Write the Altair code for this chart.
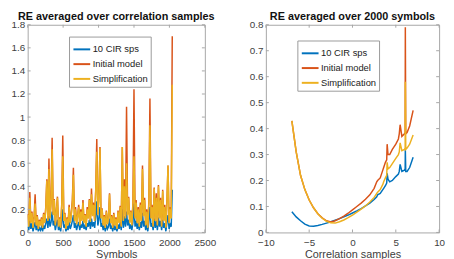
import altair as alt
import pandas as pd

series_names = ["10 CIR sps", "Initial model", "Simplification"]
series_colors = ["#0072BD", "#D95319", "#EDB120"]

# Left panel: RE averaged over correlation samples, per symbol
symbols = list(range(0, 2041, 15))
left_blue = [0.05,0.02,0.10,0.03,0.08,0.01,0.05,0.09,0.02,0.06,
             0.01,0.04,0.02,0.05,0.01,0.06,0.03,0.08,0.12,0.04,
             0.14,0.05,0.09,0.18,0.06,0.10,0.02,0.07,0.11,0.02,
             0.05,0.01,0.08,0.20,0.04,0.07,0.01,0.05,0.02,0.09,
             0.03,0.06,0.10,0.15,0.04,0.08,0.02,0.06,0.09,0.02,
             0.07,0.04,0.10,0.03,0.06,0.02,0.08,0.05,0.11,0.03,
             0.12,0.05,0.09,0.04,0.14,0.27,0.06,0.11,0.22,0.05,
             0.08,0.02,0.06,0.01,0.07,0.03,0.05,0.12,0.03,0.06,
             0.01,0.07,0.02,0.05,0.01,0.07,0.03,0.09,0.02,0.20,
             0.04,0.14,0.05,0.18,0.06,0.11,0.03,0.07,0.02,0.09,
             0.25,0.05,0.10,0.03,0.08,0.02,0.09,0.04,0.17,0.05,
             0.10,0.02,0.07,0.01,0.09,0.22,0.05,0.08,0.02,0.12,
             0.04,0.10,0.02,0.13,0.05,0.10,0.02,0.11,0.04,0.08,
             0.01,0.09,0.15,0.03,0.07,0.05,0.37]
left_red = [0.16,0.06,0.35,0.09,0.18,0.05,0.13,0.33,0.07,0.15,
            0.04,0.11,0.07,0.13,0.05,0.17,0.09,0.22,0.46,0.11,
            0.64,0.13,0.27,0.82,0.16,0.29,0.07,0.19,0.31,0.06,
            0.13,0.05,0.24,0.84,0.11,0.17,0.04,0.13,0.07,0.24,
            0.09,0.16,0.28,0.56,0.11,0.22,0.08,0.15,0.24,0.07,
            0.20,0.11,0.28,0.09,0.16,0.06,0.22,0.13,0.29,0.10,
            0.38,0.15,0.26,0.11,0.37,0.81,0.16,0.30,0.74,0.13,
            0.21,0.07,0.15,0.05,0.19,0.08,0.13,0.34,0.09,0.15,
            0.05,0.17,0.07,0.13,0.04,0.19,0.09,0.23,0.06,0.74,
            0.11,0.46,0.13,1.09,0.16,0.31,0.09,0.19,0.07,0.26,
            1.24,0.13,0.28,0.09,0.22,0.06,0.26,0.11,0.58,0.15,
            0.30,0.07,0.20,0.05,0.27,1.16,0.13,0.24,0.06,0.39,
            0.11,0.34,0.07,0.41,0.13,0.30,0.06,0.37,0.11,0.24,
            0.05,0.27,0.58,0.09,0.22,0.13,1.70]
left_yellow = [0.15,0.05,0.30,0.08,0.17,0.04,0.12,0.25,0.06,0.14,
               0.03,0.10,0.06,0.12,0.04,0.16,0.08,0.20,0.45,0.10,
               0.55,0.12,0.25,0.72,0.15,0.28,0.06,0.18,0.30,0.05,
               0.12,0.04,0.22,0.66,0.10,0.16,0.03,0.12,0.06,0.22,
               0.08,0.15,0.25,0.50,0.10,0.20,0.07,0.14,0.22,0.06,
               0.18,0.10,0.26,0.08,0.15,0.05,0.20,0.12,0.28,0.09,
               0.33,0.14,0.24,0.10,0.35,0.70,0.15,0.28,0.73,0.12,
               0.20,0.06,0.14,0.04,0.18,0.07,0.12,0.33,0.08,0.14,
               0.04,0.16,0.06,0.12,0.03,0.18,0.08,0.22,0.05,0.74,
               0.10,0.40,0.12,0.60,0.15,0.30,0.08,0.18,0.06,0.24,
               0.66,0.12,0.26,0.08,0.20,0.05,0.24,0.10,0.55,0.14,
               0.28,0.06,0.18,0.04,0.25,0.93,0.12,0.22,0.05,0.38,
               0.10,0.30,0.06,0.40,0.12,0.28,0.05,0.36,0.10,0.22,
               0.04,0.26,0.58,0.08,0.20,0.12,1.28]

# Right panel: RE averaged over 2000 symbols, per correlation sample
corr = [-7, -6.5, -6, -5.5, -5, -4.5, -4, -3.5, -3, -2.5, -2, -1.5, -1, -0.5, 0, 0.5,
        1, 1.5, 2, 2.5, 2.8, 2.9, 3.2, 3.5, 3.6, 3.8, 3.95, 4.0, 4.1, 4.3, 4.6, 5.0,
        5.3, 5.4, 5.5, 5.7, 6.0, 6.08, 6.1, 6.15, 6.3, 6.6, 7.0]
right_blue = [0.080, 0.060, 0.045, 0.032, 0.025, 0.024, 0.027, 0.031, 0.036, 0.041, 0.047,
              0.053, 0.060, 0.067, 0.075, 0.083, 0.092, 0.102, 0.113, 0.127, 0.137, 0.145,
              0.150, 0.165, 0.170, 0.180, 0.190, 0.228, 0.205, 0.195, 0.200, 0.215, 0.225,
              0.235, 0.262, 0.235, 0.240, 0.245, 0.320, 0.235, 0.235, 0.250, 0.290]
right_red = [0.43, 0.31, 0.22, 0.165, 0.125, 0.095, 0.072, 0.056, 0.045, 0.040, 0.045,
             0.053, 0.063, 0.074, 0.087, 0.100, 0.113, 0.128, 0.145, 0.170, 0.195, 0.200,
             0.210, 0.240, 0.250, 0.270, 0.280, 0.340, 0.300, 0.300, 0.320, 0.340, 0.360,
             0.380, 0.415, 0.370, 0.380, 0.385, 0.790, 0.380, 0.385, 0.410, 0.470]
right_yellow = [0.43, 0.31, 0.22, 0.165, 0.125, 0.095, 0.072, 0.055, 0.043, 0.037, 0.036,
                0.041, 0.048, 0.057, 0.067, 0.078, 0.090, 0.102, 0.117, 0.135, 0.150, 0.155,
                0.165, 0.185, 0.195, 0.210, 0.220, 0.270, 0.245, 0.250, 0.265, 0.285, 0.300,
                0.310, 0.345, 0.315, 0.320, 0.325, 0.580, 0.320, 0.325, 0.340, 0.375]

left_xticks = [0, 500, 1000, 1500, 2000, 2500]
left_yticks = [0, 0.2, 0.4, 0.6, 0.8, 1, 1.2, 1.4, 1.6, 1.8]
right_xticks = [-10, -5, 0, 5, 10]
right_yticks = [0, 0.1, 0.2, 0.3, 0.4, 0.5, 0.6, 0.7, 0.8]

H = 211
TICK = 3
FRAME = "#a6a6a6"
FONT = "Liberation Sans"


def long_df(xs, cols):
    rows = []
    for name, vals in zip(series_names, cols):
        for i, (x, v) in enumerate(zip(xs, vals)):
            rows.append({"x": x, "y": v, "series": name, "i": i})
    return pd.DataFrame(rows)


left_df = long_df(symbols, [left_blue, left_red, left_yellow])
right_df = long_df(corr, [right_blue, right_red, right_yellow])

color_scale = alt.Scale(domain=series_names, range=series_colors)


def panel(df, title, xtitle, xdom, xticks, ydom, yticks, lx, ly, W):
    xs = alt.Scale(domain=xdom, nice=False)
    ys = alt.Scale(domain=ydom, nice=False)
    xaxis = alt.Axis(values=xticks, title=xtitle, format="~r", grid=False,
                     tickSize=0, domain=False, labelPadding=5, labelFlush=False,
                     titlePadding=1, labelOverlap=False)
    yaxis = alt.Axis(values=yticks, title=None, format="~r", grid=False,
                     tickSize=0, domain=False, labelPadding=3, labelFlush=False,
                     labelOverlap=False)
    legend = alt.Legend(
        title=None, orient="none", legendX=lx, legendY=ly,
        symbolType="stroke", symbolSize=290, symbolStrokeWidth=2,
        labelFontSize=9.5, labelFont=FONT, labelColor="#222222",
        fillColor="white", strokeColor="#9a9a9a", padding=3,
        rowPadding=-5, labelOffset=1,
    )
    lines = alt.Chart(df).mark_line(strokeWidth=1.5, clip=True).encode(
        x=alt.X("x:Q", scale=xs, axis=xaxis),
        y=alt.Y("y:Q", scale=ys, axis=yaxis),
        color=alt.Color("series:N", scale=color_scale, legend=legend),
        order="i:Q",
    )
    xt = pd.DataFrame({"x": xticks})
    yt = pd.DataFrame({"y": yticks})
    xb = alt.Chart(xt).mark_rule(color=FRAME, strokeWidth=1).encode(
        x=alt.X("x:Q", scale=xs, axis=xaxis), y=alt.value(H), y2=alt.value(H - TICK))
    xtp = alt.Chart(xt).mark_rule(color=FRAME, strokeWidth=1).encode(
        x=alt.X("x:Q", scale=xs, axis=xaxis), y=alt.value(0), y2=alt.value(TICK))
    yl = alt.Chart(yt).mark_rule(color=FRAME, strokeWidth=1).encode(
        y=alt.Y("y:Q", scale=ys, axis=yaxis), x=alt.value(0), x2=alt.value(TICK))
    yr = alt.Chart(yt).mark_rule(color=FRAME, strokeWidth=1).encode(
        y=alt.Y("y:Q", scale=ys, axis=yaxis), x=alt.value(W), x2=alt.value(W - TICK))
    return alt.layer(lines, xb, xtp, yl, yr, title=alt.TitleParams(
        title, fontSize=11, font=FONT, fontWeight="bold", color="#111111",
        anchor="middle", frame="group", offset=-2,
    )).properties(width=W, height=H)


left = panel(left_df, "RE averaged over correlation samples", "Symbols",
             [0, 2500], left_xticks, [0, 1.8], left_yticks, 42, 12, 180)
right = panel(right_df, "RE averaged over 2000 symbols", "Correlation samples",
              [-10, 10], right_xticks, [0, 0.8], right_yticks, 32, 16, 176)

chart = alt.hconcat(left, right, spacing=32).resolve_scale(color="independent").properties(
    padding={"left": 2, "top": 0, "right": 0, "bottom": 0}
).configure_view(
    stroke=FRAME, strokeWidth=1
).configure_axis(
    labelFont=FONT, labelFontSize=10, labelColor="#404040",
    titleFont=FONT, titleFontSize=11, titleColor="#404040", titleFontWeight="normal",
)

chart.save("out.html", embed_options={"renderer": "svg", "actions": False})
